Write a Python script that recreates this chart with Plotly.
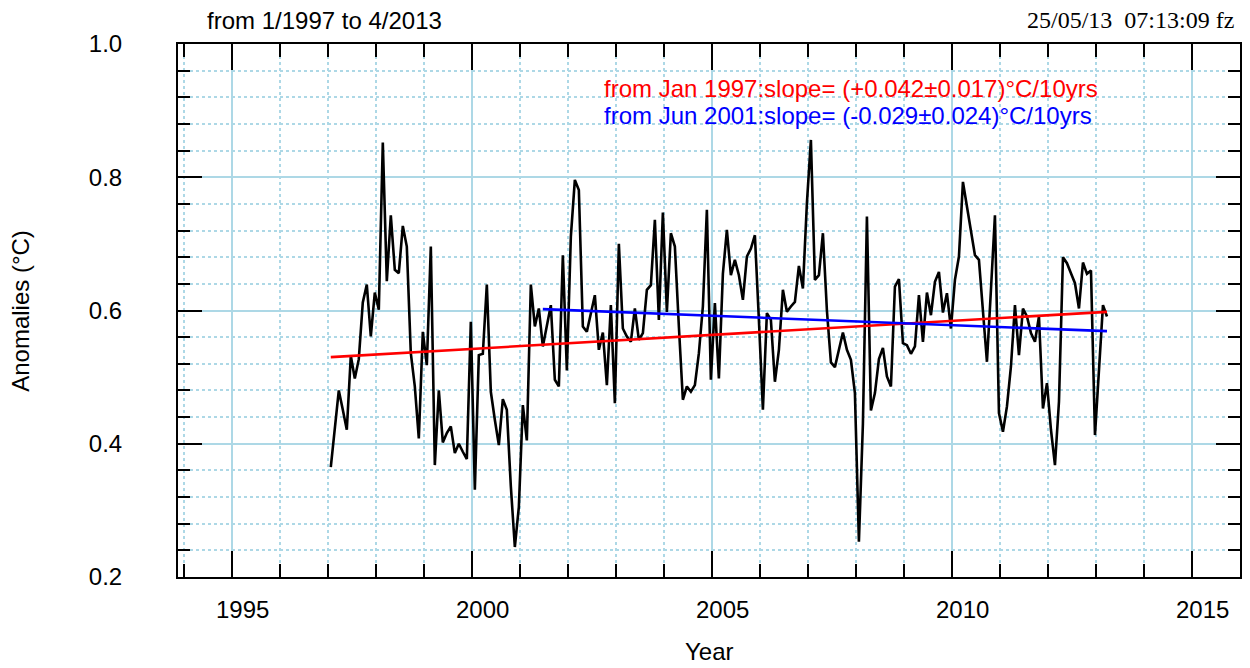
import plotly.graph_objects as go

# Monthly anomalies (°C), starting Jan 1997
start_year = 1997
anomalies = [
    0.365, 0.421, 0.480, 0.451, 0.421, 0.532, 0.498, 0.527, 0.612, 0.639, 0.561, 0.627,
    0.601, 0.852, 0.644, 0.743, 0.661, 0.656, 0.727, 0.696, 0.536, 0.486, 0.408, 0.568,
    0.518, 0.696, 0.368, 0.480, 0.402, 0.416, 0.426, 0.386, 0.400, 0.388, 0.377, 0.583,
    0.331, 0.533, 0.535, 0.639, 0.478, 0.436, 0.398, 0.467, 0.451, 0.336, 0.245, 0.305,
    0.458, 0.405, 0.639, 0.576, 0.603, 0.546, 0.578, 0.608, 0.496, 0.486, 0.683, 0.510,
    0.711, 0.796, 0.781, 0.576, 0.568, 0.598, 0.623, 0.541, 0.567, 0.488, 0.608, 0.461,
    0.700, 0.573, 0.561, 0.553, 0.603, 0.556, 0.566, 0.631, 0.638, 0.736, 0.586, 0.747,
    0.598, 0.716, 0.696, 0.576, 0.466, 0.486, 0.478, 0.488, 0.536, 0.606, 0.751, 0.496,
    0.611, 0.498, 0.655, 0.721, 0.653, 0.676, 0.653, 0.616, 0.681, 0.693, 0.713, 0.586,
    0.451, 0.596, 0.586, 0.493, 0.541, 0.631, 0.598, 0.606, 0.613, 0.667, 0.633, 0.761,
    0.856, 0.646, 0.653, 0.716, 0.600, 0.522, 0.515, 0.541, 0.567, 0.541, 0.526, 0.476,
    0.253, 0.430, 0.741, 0.450, 0.476, 0.527, 0.544, 0.501, 0.486, 0.636, 0.647, 0.551,
    0.548, 0.535, 0.546, 0.623, 0.553, 0.627, 0.593, 0.643, 0.658, 0.597, 0.626, 0.573,
    0.646, 0.681, 0.793, 0.756, 0.718, 0.683, 0.676, 0.596, 0.523, 0.631, 0.743, 0.446,
    0.418, 0.456, 0.516, 0.608, 0.533, 0.603, 0.591, 0.566, 0.553, 0.591, 0.453, 0.491,
    0.421, 0.368, 0.463, 0.680, 0.671, 0.656, 0.641, 0.603, 0.672, 0.655, 0.660, 0.413,
    0.511, 0.608, 0.591,
]
months = [start_year + (i + 0.75) / 12 for i in range(len(anomalies))]

# Trend lines (start/end values)
trend1_x = [months[0], months[-1]]
trend1_y = [0.530, 0.598]
trend2_x = [2001 + 5.75 / 12, months[-1]]
trend2_y = [0.602, 0.569]

x_tick_values = [1995, 2000, 2005, 2010, 2015]
x_tick_labels = ["1995", "2000", "2005", "2010", "2015"]

legend1 = "from Jan 1997:slope= (+0.042±0.017)°C/10yrs"
legend2 = "from Jun 2001:slope= (-0.029±0.024)°C/10yrs"
title_left = "from 1/1997 to 4/2013"
title_right = "25/05/13  07:13:09 fz"

GRID = "#add8e6"
FONT = "Liberation Sans, Arial, sans-serif"
FS = 24

fig = go.Figure()
fig.add_trace(go.Scatter(x=months, y=anomalies, mode="lines",
                         line=dict(color="black", width=2.6), showlegend=False))
fig.add_trace(go.Scatter(x=trend1_x, y=trend1_y, mode="lines",
                         line=dict(color="#ff0000", width=2.6), showlegend=False))
fig.add_trace(go.Scatter(x=trend2_x, y=trend2_y, mode="lines",
                         line=dict(color="#0000ff", width=2.6), showlegend=False))

annotations = [
    dict(text=title_left, xref="paper", yref="paper", x=0.0254, y=1.045,
         xanchor="left", yanchor="middle", showarrow=False,
         font=dict(family=FONT, size=FS, color="black")),
    dict(text=title_right, xref="paper", yref="paper", x=0.9962, y=1.045,
         xanchor="right", yanchor="middle", showarrow=False,
         font=dict(family="Liberation Serif, Times New Roman, serif", size=FS, color="black")),
    dict(text=legend1, xref="paper", yref="paper", x=0.3994, y=0.9156,
         xanchor="left", yanchor="middle", showarrow=False,
         font=dict(family=FONT, size=FS, color="#ff0000")),
    dict(text=legend2, xref="paper", yref="paper", x=0.3994, y=0.865,
         xanchor="left", yanchor="middle", showarrow=False,
         font=dict(family=FONT, size=FS, color="#0000ff")),
    dict(text="Year", xref="paper", yref="paper", x=0.5, y=-0.1407,
         xanchor="center", yanchor="middle", showarrow=False,
         font=dict(family=FONT, size=FS, color="black")),
    dict(text="Anomalies (°C)", xref="paper", yref="paper", x=-0.1485, y=0.5,
         xanchor="center", yanchor="middle", showarrow=False, textangle=-90,
         font=dict(family=FONT, size=FS, color="black")),
]
for v, lab in zip(x_tick_values, x_tick_labels):
    annotations.append(dict(text=lab, xref="x", yref="paper", x=v, y=-0.0619,
                            xanchor="center", yanchor="middle", xshift=11,
                            showarrow=False,
                            font=dict(family=FONT, size=FS, color="black")))

fig.update_layout(
    width=1242, height=660,
    margin=dict(l=170, r=8, t=36, b=91),
    paper_bgcolor="white", plot_bgcolor="white",
    font=dict(family=FONT, size=FS, color="black"),
    xaxis=dict(
        range=[1993.88, 2016.0], tickmode="array", tickvals=x_tick_values,
        showticklabels=False,
        showgrid=True, gridcolor=GRID, gridwidth=1.5,
        ticks="inside", ticklen=26, tickwidth=2, tickcolor="black",
        showline=True, linecolor="black", linewidth=2, mirror="allticks",
        zeroline=False,
        minor=dict(dtick=1, tick0=1995, ticks="inside", ticklen=13, tickwidth=2,
                   tickcolor="black", showgrid=True, gridcolor=GRID,
                   griddash="dot", gridwidth=1.5),
    ),
    yaxis=dict(
        range=[0.2, 1.0], tickmode="linear", tick0=0.2, dtick=0.2,
        tickformat=".1f",
        showgrid=True, gridcolor=GRID, gridwidth=1.5,
        ticks="inside", ticklen=24, tickwidth=2, tickcolor="black",
        showline=True, linecolor="black", linewidth=2, mirror="allticks",
        zeroline=False, ticklabelstandoff=49,
        minor=dict(dtick=0.04, tick0=0.2, ticks="inside", ticklen=12, tickwidth=2,
                   tickcolor="black", showgrid=True, gridcolor=GRID,
                   griddash="dot", gridwidth=1.5),
        tickfont=dict(size=FS),
    ),
    annotations=annotations,
)

fig.write_html("out.html")
